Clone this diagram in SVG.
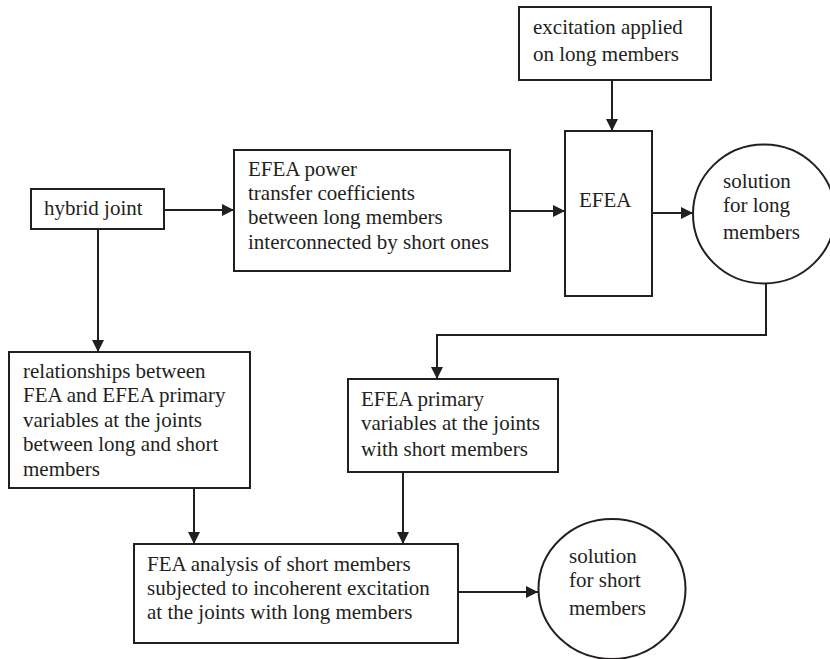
<svg xmlns="http://www.w3.org/2000/svg" width="830" height="659" viewBox="0 0 830 659">
<defs>
<style>
.box{fill:#fff;stroke:#231f20;stroke-width:2}
.ln{fill:none;stroke:#231f20;stroke-width:2}
text{font-family:"Liberation Serif","Times New Roman",serif;font-size:21px;fill:#231f20}
</style>
<marker id="ah" viewBox="0 0 12 12" refX="12" refY="6" markerWidth="12" markerHeight="12" markerUnits="userSpaceOnUse" orient="auto">
<path d="M0,0 L12,6 L0,12 Z" fill="#231f20"/>
</marker>
</defs>
<rect width="830" height="659" fill="#fff"/>
<g id="connectors">
<line class="ln" x1="164" y1="210" x2="234" y2="210" marker-end="url(#ah)"/>
<line class="ln" x1="510" y1="211" x2="565" y2="211" marker-end="url(#ah)"/>
<line class="ln" x1="612" y1="80" x2="612" y2="131" marker-end="url(#ah)"/>
<line class="ln" x1="652" y1="213" x2="693" y2="213" marker-end="url(#ah)"/>
<polyline class="ln" points="766,283 766,335 437,335 437,379" marker-end="url(#ah)"/>
<line class="ln" x1="98" y1="229" x2="98" y2="352" marker-end="url(#ah)"/>
<line class="ln" x1="194" y1="488" x2="194" y2="544" marker-end="url(#ah)"/>
<line class="ln" x1="403" y1="472" x2="403" y2="544" marker-end="url(#ah)"/>
<line class="ln" x1="458" y1="592" x2="538" y2="592" marker-end="url(#ah)"/>
</g>
<g id="hybrid">
<rect class="box" x="31" y="189" width="133" height="40"/>
<text x="44" y="215">hybrid joint</text>
</g>
<g id="power">
<rect class="box" x="234" y="150" width="276" height="121"/>
<text x="248" y="176">EFEA power</text>
<text x="248" y="200">transfer coefficients</text>
<text x="248" y="224">between long members</text>
<text x="248" y="249">interconnected by short ones</text>
</g>
<g id="excitation">
<rect class="box" x="519" y="7" width="192" height="73"/>
<text x="533" y="34">excitation applied</text>
<text x="533" y="61">on long members</text>
</g>
<g id="efea">
<rect class="box" x="565" y="131" width="87" height="165"/>
<text x="579" y="207">EFEA</text>
</g>
<g id="solLong">
<ellipse class="box" cx="764" cy="214" rx="71" ry="69.5"/>
<text x="723" y="188">solution</text>
<text x="723" y="212">for long</text>
<text x="723" y="239">members</text>
</g>
<g id="relations">
<rect class="box" x="9" y="352" width="241" height="136"/>
<text x="23" y="378">relationships between</text>
<text x="23" y="402">FEA and EFEA primary</text>
<text x="23" y="427">variables at the joints</text>
<text x="23" y="451">between long and short</text>
<text x="23" y="476">members</text>
</g>
<g id="primary">
<rect class="box" x="348" y="379" width="210" height="93"/>
<text x="361" y="406">EFEA primary</text>
<text x="361" y="430">variables at the joints</text>
<text x="361" y="456">with short members</text>
</g>
<g id="fea">
<rect class="box" x="134" y="544" width="324" height="99"/>
<text x="147" y="571">FEA analysis of short members</text>
<text x="147" y="595">subjected to incoherent excitation</text>
<text x="147" y="619">at the joints with long members</text>
</g>
<g id="solShort">
<ellipse class="box" cx="612" cy="589" rx="73.5" ry="70"/>
<text x="569" y="563">solution</text>
<text x="569" y="587">for short</text>
<text x="569" y="615">members</text>
</g>
</svg>
